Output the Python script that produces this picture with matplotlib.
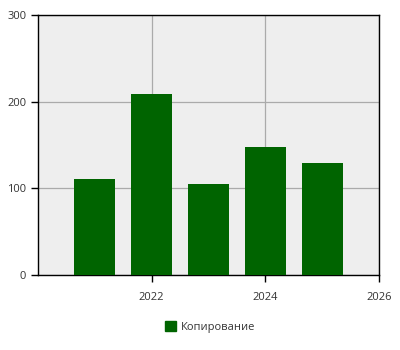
import matplotlib
matplotlib.use("Agg")
import matplotlib.pyplot as plt
from matplotlib.patches import Patch

years = [2021, 2022, 2023, 2024, 2025]
values = [111, 209, 105, 148, 129]
series_name = "Копирование"
x_ticks = [2022, 2024, 2026]
y_ticks = [0, 100, 200, 300]

plt.rcParams["font.family"] = ["Open Sans", "DejaVu Sans"]
plt.rcParams["font.stretch"] = "normal"

fig = plt.figure(figsize=(4, 3.5), dpi=100)
ax = fig.add_axes([38 / 400, 1 - 275 / 350, (379 - 38) / 400, (275 - 15) / 350])
ax.set_facecolor("#eeeeee")
ax.bar(years, values, width=0.72, color="#006400", zorder=3)

ax.set_xlim(2020, 2026)
ax.set_ylim(0, 300)
ax.set_xticks(x_ticks)
ax.set_yticks(y_ticks)
ax.grid(color="#aaaaaa", lw=0.9, zorder=0)
ax.tick_params(length=5, width=1, colors="black", labelcolor="#333333", labelsize=8)
ax.tick_params(axis="x", pad=7)
for s in ax.spines.values():
    s.set_color("black"); s.set_linewidth(1)

fig.legend(handles=[Patch(color="#006400", label=series_name)], loc="center",
           bbox_to_anchor=(0.525, 1 - 327 / 350), frameon=False, fontsize=8,
           handlelength=1.0, handleheight=1.0, handletextpad=0.4, labelcolor="#333333")

fig.savefig("out.png", dpi=100)
